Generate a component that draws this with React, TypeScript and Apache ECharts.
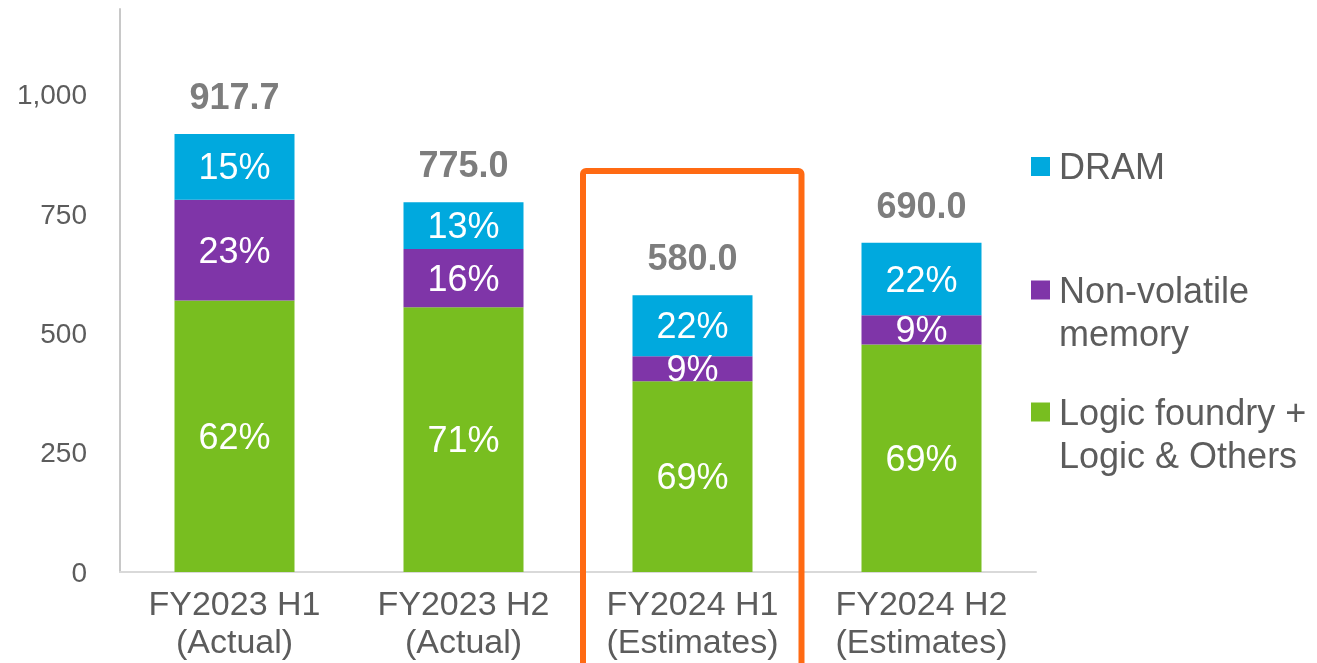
import React, { useEffect, useRef } from "react";
import * as echarts from "echarts";

const categories = [
  "FY2023 H1\n(Actual)",
  "FY2023 H2\n(Actual)",
  "FY2024 H1\n(Estimates)",
  "FY2024 H2\n(Estimates)",
];
const logicValues = [569, 555, 400, 477];
const nvValues = [211, 122, 52, 61];
const dramValues = [138, 98, 128, 152];
const totals = [917.7, 775.0, 580.0, 690.0];
const logicPct = [62, 71, 69, 69];
const nvPct = [23, 16, 9, 9];
const dramPct = [15, 13, 22, 22];
const yTicks = [0, 250, 500, 750, 1000];

const FONT = "'Liberation Sans', Arial, sans-serif";
const GRAY = "#5c5c5c";
const C_DRAM = "#00A9DE";
const C_NV = "#7F35A8";
const C_LOGIC = "#78BE20";

export default function App() {
  const ref = useRef<HTMLDivElement>(null);
  useEffect(() => {
    if (!ref.current) return;
    const chart = echarts.init(ref.current, null, { renderer: "svg" });
    const pctLabel = (arr: number[]) => ({
      show: true,
      position: "inside" as const,
      color: "#fff",
      fontSize: 36,
      fontFamily: FONT,
      formatter: (p: any) => arr[p.dataIndex] + "%",
    });
    const legendBase = {
      orient: "vertical" as const,
      left: 1031,
      padding: 0,
      itemWidth: 19,
      itemHeight: 19,
      icon: "rect",
      selectedMode: false,
      textStyle: {
        color: GRAY,
        fontSize: 36,
        fontFamily: FONT,
        lineHeight: 43,
        padding: [0, 0, 0, 4],
      },
    };
    chart.setOption({
      animation: false,
      textStyle: { fontFamily: FONT },
      grid: { left: 120, right: 281, top: 9, bottom: 91, containLabel: false },
      xAxis: {
        type: "category",
        data: categories,
        axisTick: { show: false },
        axisLine: { lineStyle: { color: "#d9d9d9", width: 2 } },
        axisLabel: {
          color: GRAY,
          fontSize: 34,
          lineHeight: 38,
          margin: 12,
          fontFamily: FONT,
        },
      },
      yAxis: {
        type: "value",
        min: 0,
        max: 1180,
        interval: 250,
        splitLine: { show: false },
        axisTick: { show: false },
        axisLine: { show: true, lineStyle: { color: "#c8c8c8", width: 2 } },
        axisLabel: {
          color: GRAY,
          fontSize: 28,
          margin: 33,
          fontFamily: FONT,
          showMaxLabel: false,
          formatter: (v: number) =>
            yTicks.includes(v) ? v.toLocaleString("en-US") : "",
        },
      },
      legend: [
        { ...legendBase, top: 145, data: ["DRAM"] },
        {
          ...legendBase,
          top: 225.5,
          data: ["Non-volatile\nmemory"],
          formatter: (name: string) => "\n" + name,
        },
        {
          ...legendBase,
          top: 347.5,
          data: ["Logic foundry +\nLogic & Others"],
          formatter: (name: string) => "\n" + name,
        },
      ],
      series: [
        {
          name: "Logic foundry +\nLogic & Others",
          type: "bar",
          stack: "total",
          barWidth: 120,
          data: logicValues,
          itemStyle: { color: C_LOGIC },
          label: pctLabel(logicPct),
        },
        {
          name: "Non-volatile\nmemory",
          type: "bar",
          stack: "total",
          barWidth: 120,
          data: nvValues,
          itemStyle: { color: C_NV },
          label: pctLabel(nvPct),
        },
        {
          name: "DRAM",
          type: "bar",
          stack: "total",
          barWidth: 120,
          data: dramValues,
          itemStyle: { color: C_DRAM },
          label: pctLabel(dramPct),
        },
        {
          name: "Total",
          type: "scatter",
          data: totals,
          symbolSize: 1,
          itemStyle: { color: "rgba(0,0,0,0)" },
          silent: true,
          label: {
            show: true,
            position: "top",
            distance: 19,
            color: GRAY,
            fontSize: 36,
            lineHeight: 36,
            fontWeight: "bold",
            fontFamily: FONT,
            formatter: (p: any) => totals[p.dataIndex].toFixed(1),
          },
        },
      ],
      graphic: [
        {
          type: "rect",
          shape: { x: 583, y: 171, width: 218.5, height: 600, r: 3 },
          style: { fill: "none", stroke: "#FF6A13", lineWidth: 6 },
          z: 100,
        },
      ],
    });
    return () => chart.dispose();
  }, []);
  return (
    <div
      ref={ref}
      style={{ position: "fixed", left: 0, top: 0, width: 1317, height: 663 }}
    />
  );
}
